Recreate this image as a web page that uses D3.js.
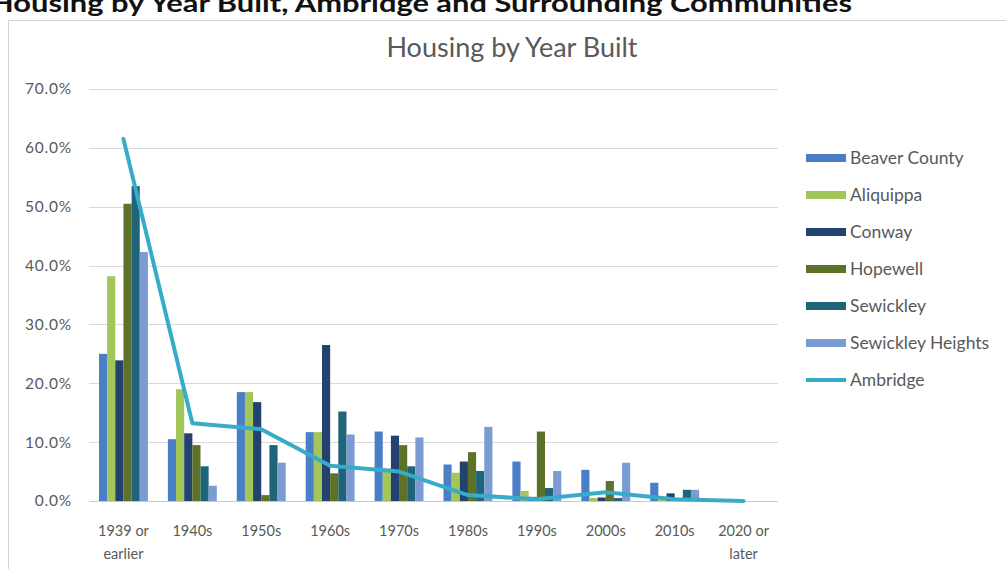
<!DOCTYPE html>
<html>
<head>
<meta charset="utf-8">
<script src="https://cdn.jsdelivr.net/npm/d3@7"></script>
<style>
  html, body { margin: 0; padding: 0; background: #fff; }
  svg { display: block; font-family: Lato, "Open Sans", sans-serif; }
</style>
</head>
<body>
<svg id="chart" width="1006" height="569"></svg>
<script>
// Share of housing units by decade built (percent)
const categories = ["1939 or earlier", "1940s", "1950s", "1960s", "1970s", "1980s", "1990s", "2000s", "2010s", "2020 or later"];
const tickLabelLines = [["1939 or", "earlier"], ["1940s"], ["1950s"], ["1960s"], ["1970s"], ["1980s"], ["1990s"], ["2000s"], ["2010s"], ["2020 or", "later"]];

const beaverCounty     = [25.0, 10.5, 18.5, 11.7, 11.8, 6.2, 6.7, 5.3, 3.1, 0.1];
const aliquippa        = [38.2, 19.0, 18.5, 11.7, 5.5, 4.8, 1.7, 0.5, 0.3, 0.0];
const conway           = [23.9, 11.5, 16.8, 26.5, 11.1, 6.7, 0.7, 0.6, 1.3, 0.0];
const hopewell         = [50.5, 9.5, 1.0, 4.7, 9.5, 8.3, 11.8, 3.4, 0.3, 0.0];
const sewickley        = [53.5, 5.9, 9.5, 15.2, 5.9, 5.1, 2.2, 0.5, 1.9, 0.0];
const sewickleyHeights = [42.3, 2.6, 6.5, 11.3, 10.8, 12.6, 5.1, 6.5, 1.9, 0.0];
const ambridge         = [61.5, 13.2, 12.2, 6.0, 5.0, 1.0, 0.3, 1.5, 0.3, 0.0];

const yTicks = [0, 10, 20, 30, 40, 50, 60, 70];

const barSeries = [
  { name: "Beaver County",     values: beaverCounty,     color: "#4a7ec6" },
  { name: "Aliquippa",         values: aliquippa,        color: "#a2c65a" },
  { name: "Conway",            values: conway,           color: "#24426f" },
  { name: "Hopewell",          values: hopewell,         color: "#5e7129" },
  { name: "Sewickley",         values: sewickley,        color: "#1f6478" },
  { name: "Sewickley Heights", values: sewickleyHeights, color: "#7b9bd3" }
];
const lineSeries = { name: "Ambridge", values: ambridge, color: "#37acc8" };

const svg = d3.select("#chart");

// Report heading above the chart frame
svg.append("text")
  .attr("x", -10).attr("y", 12)
  .attr("textLength", 862).attr("lengthAdjust", "spacingAndGlyphs")
  .attr("font-size", 24).attr("font-weight", 700).attr("fill", "#111")
  .text("Housing by Year Built, Ambridge and Surrounding Communities");

// Chart frame
svg.append("rect")
  .attr("x", 8.5).attr("y", 20.5).attr("width", 1010).attr("height", 560)
  .attr("fill", "#fff").attr("stroke", "#d4d4d4").attr("stroke-width", 1);

svg.append("text")
  .attr("x", 512).attr("y", 57)
  .attr("text-anchor", "middle")
  .attr("font-size", 27).attr("fill", "#595959")
  .text("Housing by Year Built");

const plot = { left: 89, right: 778, top: 89, bottom: 501 };

const x0 = d3.scaleBand().domain(categories).range([plot.left, plot.right]).paddingInner(0.29).paddingOuter(0.145);
const x1 = d3.scaleBand().domain(barSeries.map(s => s.name)).range([0, x0.bandwidth()]);
const y = d3.scaleLinear().domain([0, 70]).range([plot.bottom, plot.top]);

// Gridlines
svg.append("g")
  .selectAll("line").data(yTicks).join("line")
  .attr("x1", plot.left).attr("x2", plot.right)
  .attr("y1", d => Math.round(y(d)) + 0.5).attr("y2", d => Math.round(y(d)) + 0.5)
  .attr("stroke", d => d === 0 ? "#c8c8c8" : "#d9d9d9").attr("stroke-width", 1);

// Y axis labels
const yAxis = d3.axisLeft(y).tickValues(yTicks).tickSize(0).tickPadding(0)
  .tickFormat(d => d3.format(".1f")(d) + "%");
svg.append("g")
  .attr("transform", `translate(${plot.left - 17},0)`)
  .call(yAxis)
  .call(g => g.select(".domain").remove())
  .call(g => g.selectAll("text")
    .attr("font-family", "Lato, sans-serif")
    .attr("font-size", 15.5).attr("fill", "#595959").attr("letter-spacing", 0.8));

// X axis labels (wrapped)
const xAxis = d3.axisBottom(x0).tickSize(0).tickPadding(0).tickFormat(() => "");
const xg = svg.append("g").attr("transform", `translate(0,${plot.bottom})`).call(xAxis);
xg.select(".domain").remove();
xg.selectAll(".tick").each(function(d, i) {
  const t = d3.select(this).select("text")
    .attr("y", 35).attr("dy", 0)
    .attr("font-family", "Lato, sans-serif")
    .attr("font-size", 14.5).attr("fill", "#595959");
  tickLabelLines[i].forEach((line, j) => {
    t.append("tspan").attr("x", 0).attr("y", 35 + j * 23).text(line);
  });
});

// Bars
const groups = svg.append("g").selectAll("g").data(categories).join("g")
  .attr("transform", d => `translate(${x0(d)},0)`);
groups.selectAll("rect")
  .data((d, i) => barSeries.map(s => ({ name: s.name, color: s.color, value: s.values[i] })))
  .join("rect")
  .attr("x", d => x1(d.name))
  .attr("width", x1.bandwidth())
  .attr("y", d => y(d.value))
  .attr("height", d => y(0) - y(d.value))
  .attr("fill", d => d.color);

// Ambridge line
const line = d3.line()
  .x((d, i) => x0(categories[i]) + x0.bandwidth() / 2)
  .y(d => y(d));
svg.append("path")
  .datum(lineSeries.values)
  .attr("d", line)
  .attr("fill", "none")
  .attr("stroke", lineSeries.color)
  .attr("stroke-width", 4)
  .attr("stroke-linejoin", "round")
  .attr("stroke-linecap", "round");

// Legend
const legendItems = barSeries.map(s => ({ name: s.name, color: s.color, type: "bar" }))
  .concat([{ name: lineSeries.name, color: lineSeries.color, type: "line" }]);
const legend = svg.append("g").selectAll("g").data(legendItems).join("g")
  .attr("transform", (d, i) => `translate(806,${158 + i * 37})`);
legend.filter(d => d.type === "bar").append("rect")
  .attr("x", 0).attr("y", -4).attr("width", 40).attr("height", 8)
  .attr("fill", d => d.color);
legend.filter(d => d.type === "line").append("line")
  .attr("x1", 0).attr("x2", 40).attr("y1", 0).attr("y2", 0)
  .attr("stroke", d => d.color).attr("stroke-width", 4);
legend.append("text")
  .attr("x", 44).attr("y", 0).attr("dy", "0.35em")
  .attr("font-size", 17.5).attr("fill", "#595959")
  .text(d => d.name);
</script>
</body>
</html>
